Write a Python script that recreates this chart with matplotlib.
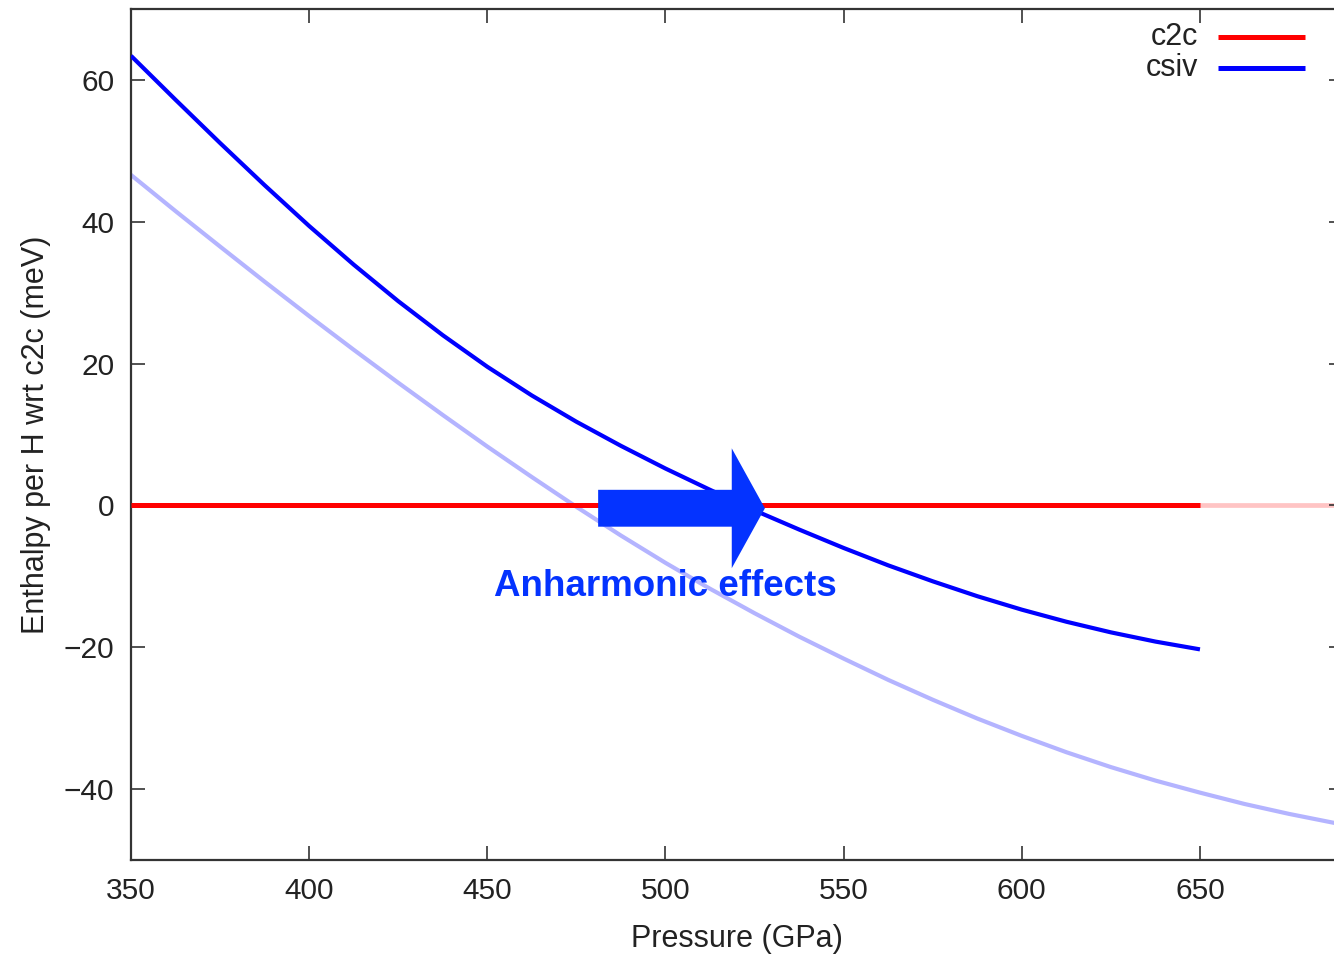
import matplotlib
matplotlib.use("Agg")
import matplotlib.pyplot as plt
from matplotlib.patches import FancyArrow

plt.rcParams['font.family'] = ['Liberation Sans', 'DejaVu Sans']

# pressure grid (GPa)
pressure = [350, 362.5, 375, 387.5, 400, 412.5, 425, 437.5, 450, 462.5, 475, 487.5,
            500, 512.5, 525, 537.5, 550, 562.5, 575, 587.5, 600, 612.5, 625, 637.5, 650]
pressure_harm = pressure + [662.5, 675, 690]

# enthalpy per H relative to c2c (meV), anharmonic (solid) and harmonic (faded)
c2c = [0] * len(pressure)
csiv = [63.4, 57.2, 51.1, 45.15, 39.4, 33.95, 28.8, 24.0, 19.55, 15.5, 11.8, 8.4,
        5.2, 2.2, -0.7, -3.4, -6.0, -8.45, -10.7, -12.8, -14.7, -16.4, -17.9, -19.2, -20.3]
c2c_harm = [0] * len(pressure_harm)
csiv_harm = [46.6, 41.5, 36.5, 31.55, 26.7, 21.95, 17.3, 12.75, 8.3, 4.0, -0.2, -4.25,
             -8.1, -11.75, -15.2, -18.5, -21.6, -24.6, -27.4, -30.05, -32.5, -34.8,
             -36.9, -38.8, -40.5, -42.1, -43.5, -45.0]

labels = ["c2c", "csiv"]
colors = ["#ff0000", "#0000ff"]
faded = ["#ffc4c4", "#b4b4ff"]

fig = plt.figure(figsize=(13.34, 9.57), dpi=100)
ax = fig.add_axes([131 / 1334, 97 / 957, 1211.5 / 1334, 851 / 957])

# faded (harmonic) curves underneath
ax.plot(pressure_harm, c2c_harm, color=faded[0], lw=3.4, zorder=1)
ax.plot(pressure_harm, csiv_harm, color=faded[1], lw=3.0, zorder=1)

# anharmonic curves
ax.plot(pressure, c2c, color=colors[0], lw=3.6, zorder=3, solid_capstyle='butt')
ax.plot(pressure, csiv, color=colors[1], lw=3.0, zorder=3, solid_capstyle='butt',
        solid_joinstyle='round')

# arrow + annotation
arrow_col = "#0433ff"
ax.add_patch(FancyArrow(481.1, -0.4, 46.8, 0, width=5.2, head_width=16.9,
                        head_length=9.3, length_includes_head=True,
                        color=arrow_col, lw=0, zorder=4))
ax.text(500.0, -11.4, "Anharmonic effects", color=arrow_col, fontsize=26.5,
        fontweight='bold', ha='center', va='center', zorder=5)

# legend drawn by hand (gnuplot style, right aligned text)
for i, (lab, col) in enumerate(zip(labels, colors)):
    yy = (860 - 37 - 31 * i) / 851
    ax.text((1198 - 131) / 1211.5, yy, lab, transform=ax.transAxes, fontsize=22,
            ha='right', va='center', color='#222222')
    ax.plot([(1218 - 131) / 1211.5, (1305 - 131) / 1211.5], [yy, yy],
            transform=ax.transAxes, color=col, lw=3.6, solid_capstyle='butt')

ax.set_xlim(350, 690)
ax.set_ylim(-50, 70)
ax.set_xticks([350, 400, 450, 500, 550, 600, 650])
ax.set_yticks([-40, -20, 0, 20, 40, 60])
ax.set_yticklabels(["\u221240", "\u221220", "0", "20", "40", "60"])
ax.tick_params(direction='in', length=10, width=1.2, colors='#333333',
               labelcolor='#222222', labelsize=21.5, top=True, right=True, pad=12)

for s in ax.spines.values():
    s.set_color('#333333')
    s.set_linewidth(1.6)

ax.set_xlabel("Pressure (GPa)", fontsize=22, color='#222222', labelpad=14)
ax.set_ylabel("Enthalpy per H wrt c2c (meV)", fontsize=22, color='#222222')
ax.yaxis.set_label_coords(-0.066, 0.5)

fig.savefig("out.png", dpi=100)
